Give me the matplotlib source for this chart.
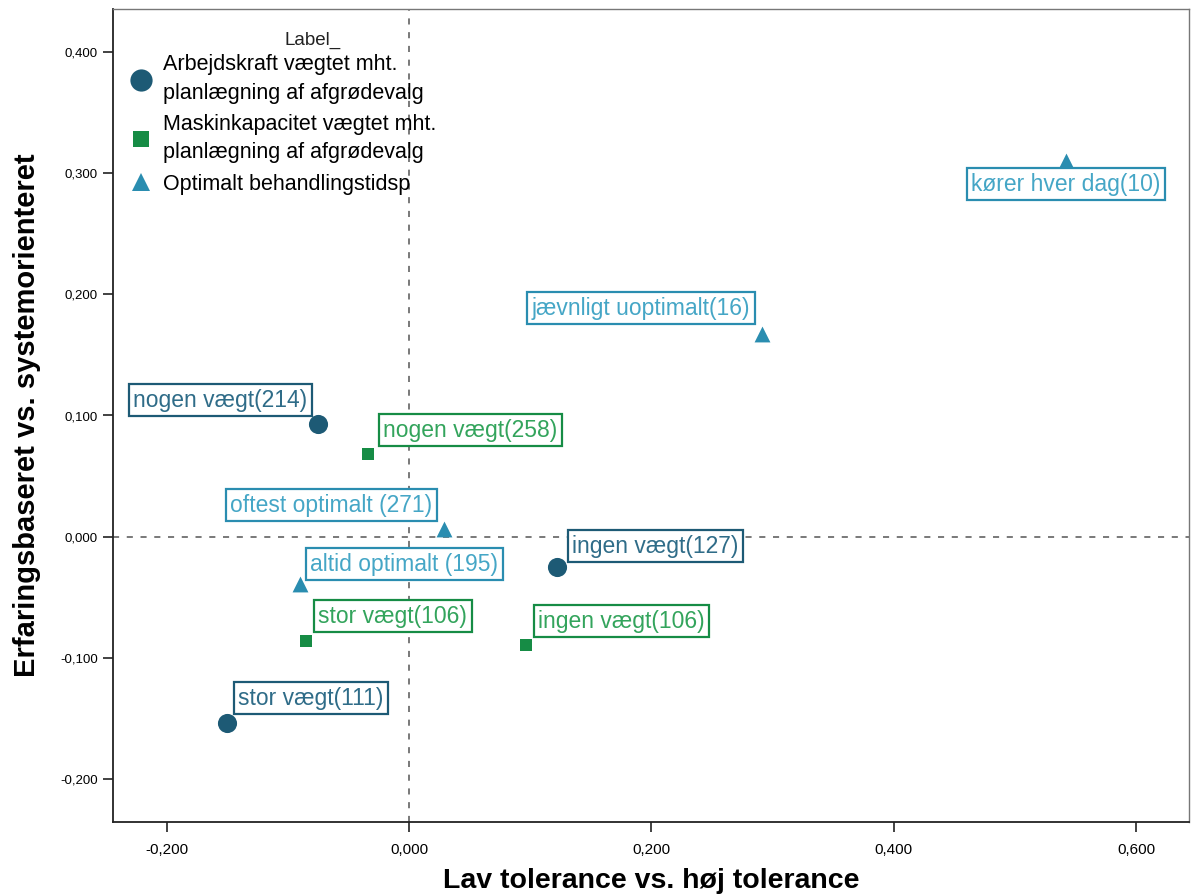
import matplotlib
matplotlib.use("Agg")
import matplotlib.pyplot as plt
from matplotlib.lines import Line2D

plt.rcParams['font.family'] = ['Liberation Sans', 'DejaVu Sans']

# ---- data ----
series_names = ["Arbejdskraft vægtet mht.\nplanlægning af afgrødevalg",
                "Maskinkapacitet vægtet mht.\nplanlægning af afgrødevalg",
                "Optimalt behandlingstidsp"]

arb_labels = ["nogen vægt(214)", "ingen vægt(127)", "stor vægt(111)"]
arb_x = [-0.0751, 0.1222, -0.1502]
arb_y = [0.0933, -0.0248, -0.1535]

mask_labels = ["nogen vægt(258)", "stor vægt(106)", "ingen vægt(106)"]
mask_x = [-0.0338, -0.0850, 0.0966]
mask_y = [0.0685, -0.0858, -0.0891]

opt_labels = ["kører hver dag(10)", "jævnligt uoptimalt(16)",
              "oftest optimalt (271)", "altid optimalt (195)"]
opt_x = [0.5423, 0.2914, 0.0289, -0.0900]
opt_y = [0.3104, 0.1676, 0.0066, -0.0388]

x_ticks = [-0.2, 0.0, 0.2, 0.4, 0.6]
y_ticks = [-0.2, -0.1, 0.0, 0.1, 0.2, 0.3, 0.4]

# ---- styles ----
c_arb, c_arb_txt = "#1d5a75", "#2f6c88"
c_mask, c_mask_txt = "#168c45", "#33a45c"
c_opt, c_opt_txt = "#2a8db0", "#45a6c6"

# label placements: (dx px, dy px, ha, va)
arb_pos = [(-11, 12, 'right', 'bottom'), (15, 9, 'left', 'bottom'), (11, 13, 'left', 'bottom')]
mask_pos = [(15, 12, 'left', 'bottom'), (12, 13, 'left', 'bottom'), (12, 12, 'left', 'bottom')]
opt_pos = [(0, -12, 'center', 'top'), (-12, 14, 'right', 'bottom'),
           (-12, 12, 'right', 'bottom'), (10, 8, 'left', 'bottom')]

fig = plt.figure(figsize=(11.95, 8.96), dpi=100)
ax = fig.add_axes([113/1195, 1-822/896, (1189-113)/1195, (822-9)/896])

ax.set_xlim(-0.2446, 0.6438)
ax.set_ylim(-0.2355, 0.4355)

ax.axvline(0, color="#555555", lw=1.1, ls=(0, (4, 5)), zorder=1)
ax.axhline(0, color="#555555", lw=1.1, ls=(0, (4, 5)), zorder=1)

ax.scatter(arb_x, arb_y, s=190, marker='o', color=c_arb, zorder=3, linewidths=0)
ax.scatter(mask_x, mask_y, s=85, marker='s', color=c_mask, zorder=3, linewidths=0)
ax.scatter(opt_x, opt_y, s=130, marker='^', color=c_opt, zorder=3, linewidths=0)

def label(xs, ys, labs, pos, tc, ec):
    for x, y, t, (dx, dy, ha, va) in zip(xs, ys, labs, pos):
        ax.annotate(t, (x, y), xytext=(dx, dy), textcoords='offset pixels',
                    ha=ha, va=va, fontsize=16.5, color=tc, zorder=4,
                    bbox=dict(boxstyle='square,pad=0.2', fc='white', ec=ec, lw=1.6))

label(arb_x, arb_y, arb_labels, arb_pos, c_arb_txt, c_arb)
label(mask_x, mask_y, mask_labels, mask_pos, c_mask_txt, c_mask)
label(opt_x, opt_y, opt_labels, opt_pos, c_opt_txt, c_opt)

ax.set_xticks(x_ticks)
ax.set_xticklabels([f"{v:.3f}".replace('.', ',') for v in x_ticks], fontsize=11)
ax.set_yticks(y_ticks)
ax.set_yticklabels([f"{v:.3f}".replace('.', ',') for v in y_ticks], fontsize=9.5)
ax.tick_params(axis='both', direction='out', length=7, width=1.2, color='#222222')
ax.tick_params(axis='x', pad=8)
ax.tick_params(axis='y', pad=4)

for side in ['left', 'bottom']:
    ax.spines[side].set_color('#222222')
    ax.spines[side].set_linewidth(1.3)
for side in ['top', 'right']:
    ax.spines[side].set_color('#777777')
    ax.spines[side].set_linewidth(1.0)

ax.set_xlabel("Lav tolerance vs. høj tolerance", fontsize=20.5, fontweight='bold', labelpad=8)
ax.set_ylabel("Erfaringsbaseret vs. systemorienteret", fontsize=21, fontweight='bold', labelpad=14)

handles = [Line2D([], [], marker='o', ls='', color=c_arb, markersize=16, markeredgewidth=0),
           Line2D([], [], marker='s', ls='', color=c_mask, markersize=11, markeredgewidth=0),
           Line2D([], [], marker='^', ls='', color=c_opt, markersize=13, markeredgewidth=0)]
leg = ax.legend(handles, series_names, loc='upper left', bbox_to_anchor=(0.010, 0.952),
                frameon=False, fontsize=15.5, handlelength=1.0, handletextpad=0.5,
                labelspacing=0.48, borderaxespad=0.0, borderpad=0.3)
for t in leg.get_texts():
    t.set_linespacing(1.45)
ax.text((313-113)/(1189-113), 1-(40-9)/(822-9), "Label_", transform=ax.transAxes,
        ha='center', va='center', fontsize=13.5, color='#222222')

fig.savefig("out.png", dpi=100)
